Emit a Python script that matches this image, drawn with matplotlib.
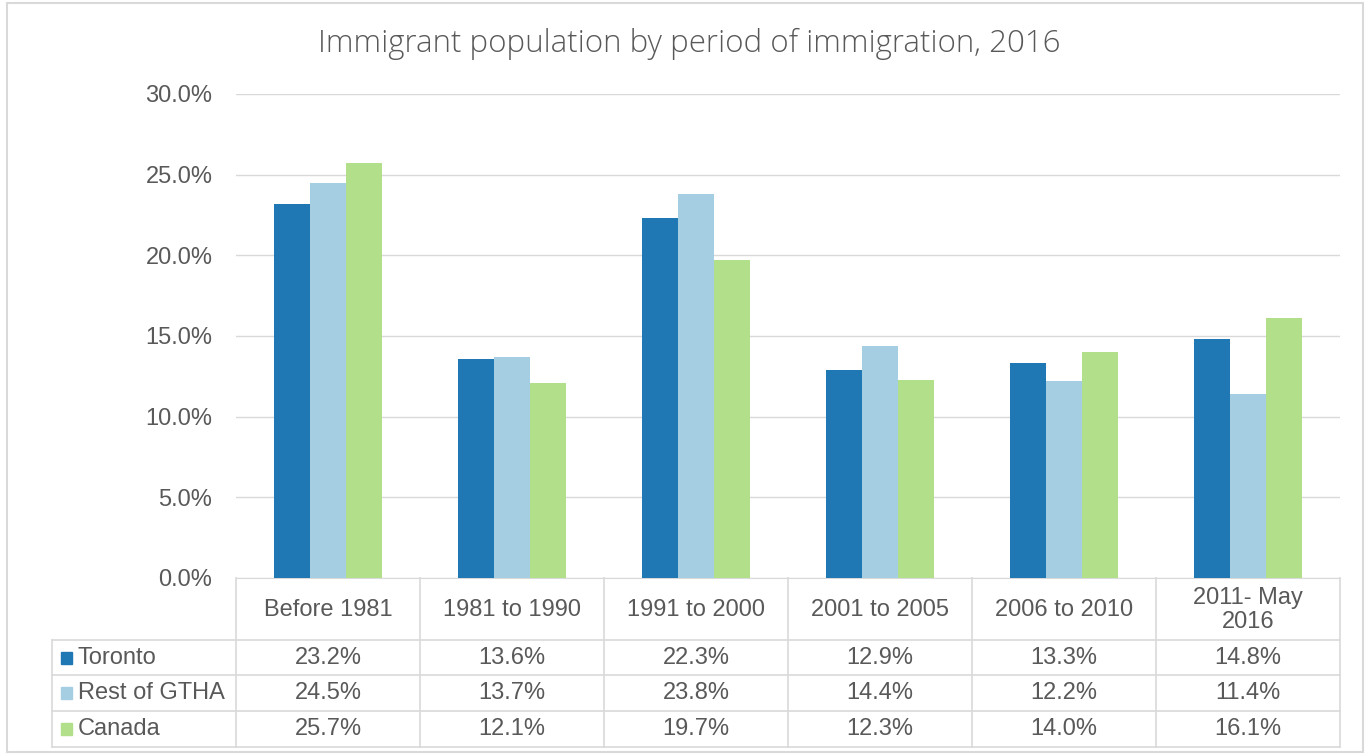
import matplotlib.pyplot as plt
import matplotlib.transforms as mtransforms
from matplotlib.patches import Rectangle
from matplotlib.lines import Line2D
import numpy as np

plt.rcParams['font.family'] = ['Liberation Sans', 'DejaVu Sans']

categories = ['Before 1981', '1981 to 1990', '1991 to 2000', '2001 to 2005',
              '2006 to 2010', '2011- May\n2016']
series_names = ['Toronto', 'Rest of GTHA', 'Canada']
toronto = [23.2, 13.6, 22.3, 12.9, 13.3, 14.8]
rest_gtha = [24.5, 13.7, 23.8, 14.4, 12.2, 11.4]
canada = [25.7, 12.1, 19.7, 12.3, 14.0, 16.1]
colors = ['#1f78b4', '#a6cee3', '#b2df8a']

W, H = 1369, 756
txt = '#595959'
grid = '#d9d9d9'

fig = plt.figure(figsize=(W / 100, H / 100), dpi=100)


def fy(py):
    # pixel from top -> figure fraction
    return 1 - py / H


def fx(px):
    return px / W


# outer frame
fig.add_artist(Rectangle((fx(7), fy(752)), fx(1356), 749 / H, transform=fig.transFigure,
                         fill=False, edgecolor=grid, lw=1.5))

ax = fig.add_axes([fx(236), fy(578), fx(1340 - 236), (578 - 94) / H])
x = np.arange(len(categories))
bw = 0.196
for i, vals in enumerate([toronto, rest_gtha, canada]):
    ax.bar(x + (i - 1) * bw, np.array(vals) / 100, bw, color=colors[i], zorder=3)

ax.set_xlim(-0.5, len(categories) - 0.5)
ax.set_ylim(0, 0.30)
ax.set_yticks(np.arange(0, 0.31, 0.05))
ax.set_yticklabels(['%.1f%%' % (v * 100) for v in np.arange(0, 0.31, 0.05)])
ax.tick_params(axis='y', length=0, pad=17, labelsize=17, labelcolor=txt)
ax.set_xticks([])
ax.grid(axis='y', color=grid, lw=1, zorder=0)
for s in ['top', 'right', 'left']:
    ax.spines[s].set_visible(False)
ax.spines['bottom'].set_color(grid)

fig.text(fx(318), fy(44), 'Immigrant population by period of immigration, 2016',
         ha='left', va='center', fontsize=22.5, color=txt,
         family=['Open Sans', 'DejaVu Sans'], fontweight='light')

# data table under the axis
blend = mtransforms.blended_transform_factory(ax.transData, fig.transFigure)
row_y = [578, 640, 675, 711, 747]
for b in np.arange(-0.5, len(categories), 1.0):
    fig.add_artist(Line2D([b, b], [fy(578), fy(747)], transform=blend, color=grid, lw=1.2))
fig.add_artist(Line2D([fx(52), fx(52)], [fy(640), fy(747)], transform=fig.transFigure,
                      color=grid, lw=1.2))
for ry in row_y[1:]:
    fig.add_artist(Line2D([fx(52), fx(1340)], [fy(ry), fy(ry)], transform=fig.transFigure,
                          color=grid, lw=1.2))

for i, c in enumerate(categories):
    fig.text(x[i], fy((578 + 640) / 2 + 1), c, transform=blend, ha='center', va='center',
             fontsize=17, color=txt, linespacing=1.1)

for r, (name, vals) in enumerate(zip(series_names, [toronto, rest_gtha, canada])):
    cy = fy((row_y[r + 1] + row_y[r + 2]) / 2)
    fig.add_artist(Rectangle((fx(61), cy - 6 / H), 11 / W, 12 / H, transform=fig.transFigure,
                             color=colors[r]))
    fig.text(fx(78), cy, name, ha='left', va='center', fontsize=17, color=txt)
    for i, v in enumerate(vals):
        fig.text(x[i], cy, '%.1f%%' % v, transform=blend, ha='center', va='center',
                 fontsize=17, color=txt)

fig.savefig('out.png', dpi=100)
